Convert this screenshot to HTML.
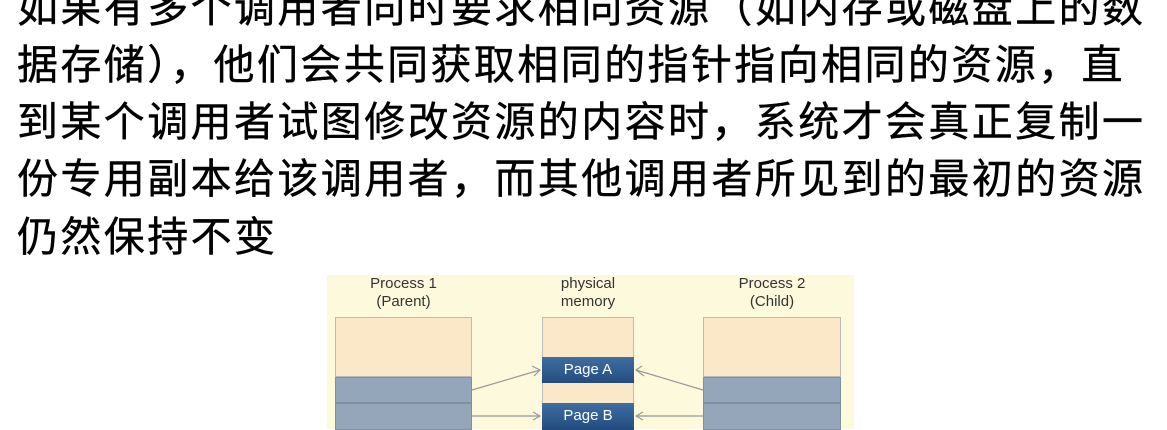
<!DOCTYPE html>
<html><head><meta charset="utf-8"><style>
body{margin:0;width:1167px;height:429px;overflow:hidden;background:#fff;position:relative}
.l{position:absolute;left:17px;font-family:"Liberation Sans","Noto Sans CJK SC",sans-serif;font-size:41px;line-height:42px;letter-spacing:2.4px;color:#000;white-space:nowrap;-webkit-text-stroke:0.4px #000}
.d{position:absolute;font-family:"Liberation Sans","DejaVu Sans",sans-serif;font-size:15px;color:#333;text-align:center;line-height:18px}
.b{position:absolute;box-sizing:border-box}
</style></head><body>
<div class="l" style="top:-13px">如果有多个调用者同时要求相同资源（如内存或磁盘上的数</div>
<div class="l" style="top:44px">据存储），他们会共同获取相同的指针指向相同的资源，直</div>
<div class="l" style="top:101px">到某个调用者试图修改资源的内容时，系统才会真正复制一</div>
<div class="l" style="top:158px">份专用副本给该调用者，而其他调用者所见到的最初的资源</div>
<div class="l" style="top:216px">仍然保持不变</div>

<div class="b" style="left:327px;top:275px;width:527px;height:154px;background:#fdf9dc"></div>
<div class="d" style="left:335px;top:275px;width:137px">Process 1<br>(Parent)</div>
<div class="d" style="left:535px;top:275px;width:106px">physical<br>memory</div>
<div class="d" style="left:703px;top:275px;width:138px">Process 2<br>(Child)</div>

<div class="b" style="left:335px;top:317px;width:137px;height:60px;background:#fbe8c8;border:1px solid #bbb"></div>
<div class="b" style="left:335px;top:377px;width:137px;height:26px;background:#93a6ba;border:1px solid #7e8fa0"></div>
<div class="b" style="left:335px;top:403px;width:137px;height:27px;background:#93a6ba;border:1px solid #7e8fa0"></div>

<div class="b" style="left:542px;top:317px;width:92px;height:113px;background:#fbe8c8;border:1px solid #bbb"></div>
<div class="b" style="left:542px;top:357px;width:92px;height:26px;background:linear-gradient(#3f6ea3,#244c7e);color:#fff;font:15px 'Liberation Sans',sans-serif;text-align:center;line-height:26px">Page A</div>
<div class="b" style="left:542px;top:403px;width:92px;height:27px;background:linear-gradient(#3f6ea3,#244c7e);color:#fff;font:15px 'Liberation Sans',sans-serif;text-align:center;line-height:26px">Page B</div>

<div class="b" style="left:703px;top:317px;width:138px;height:60px;background:#fbe8c8;border:1px solid #bbb"></div>
<div class="b" style="left:703px;top:377px;width:138px;height:26px;background:#93a6ba;border:1px solid #7e8fa0"></div>
<div class="b" style="left:703px;top:403px;width:138px;height:27px;background:#93a6ba;border:1px solid #7e8fa0"></div>

<svg style="position:absolute;left:0;top:0" width="1167" height="429">
<g stroke="#999" stroke-width="1.2" fill="none">
<line x1="472" y1="390" x2="540" y2="370"/><polyline points="532,366 540,370 534,376"/>
<line x1="472" y1="416" x2="540" y2="416"/><polyline points="533,412 540,416 533,420"/>
<line x1="703" y1="390" x2="636" y2="370"/><polyline points="642,366 636,370 644,376"/>
<line x1="703" y1="416" x2="636" y2="416"/><polyline points="643,412 636,416 643,420"/>
</g></svg>
</body></html>
